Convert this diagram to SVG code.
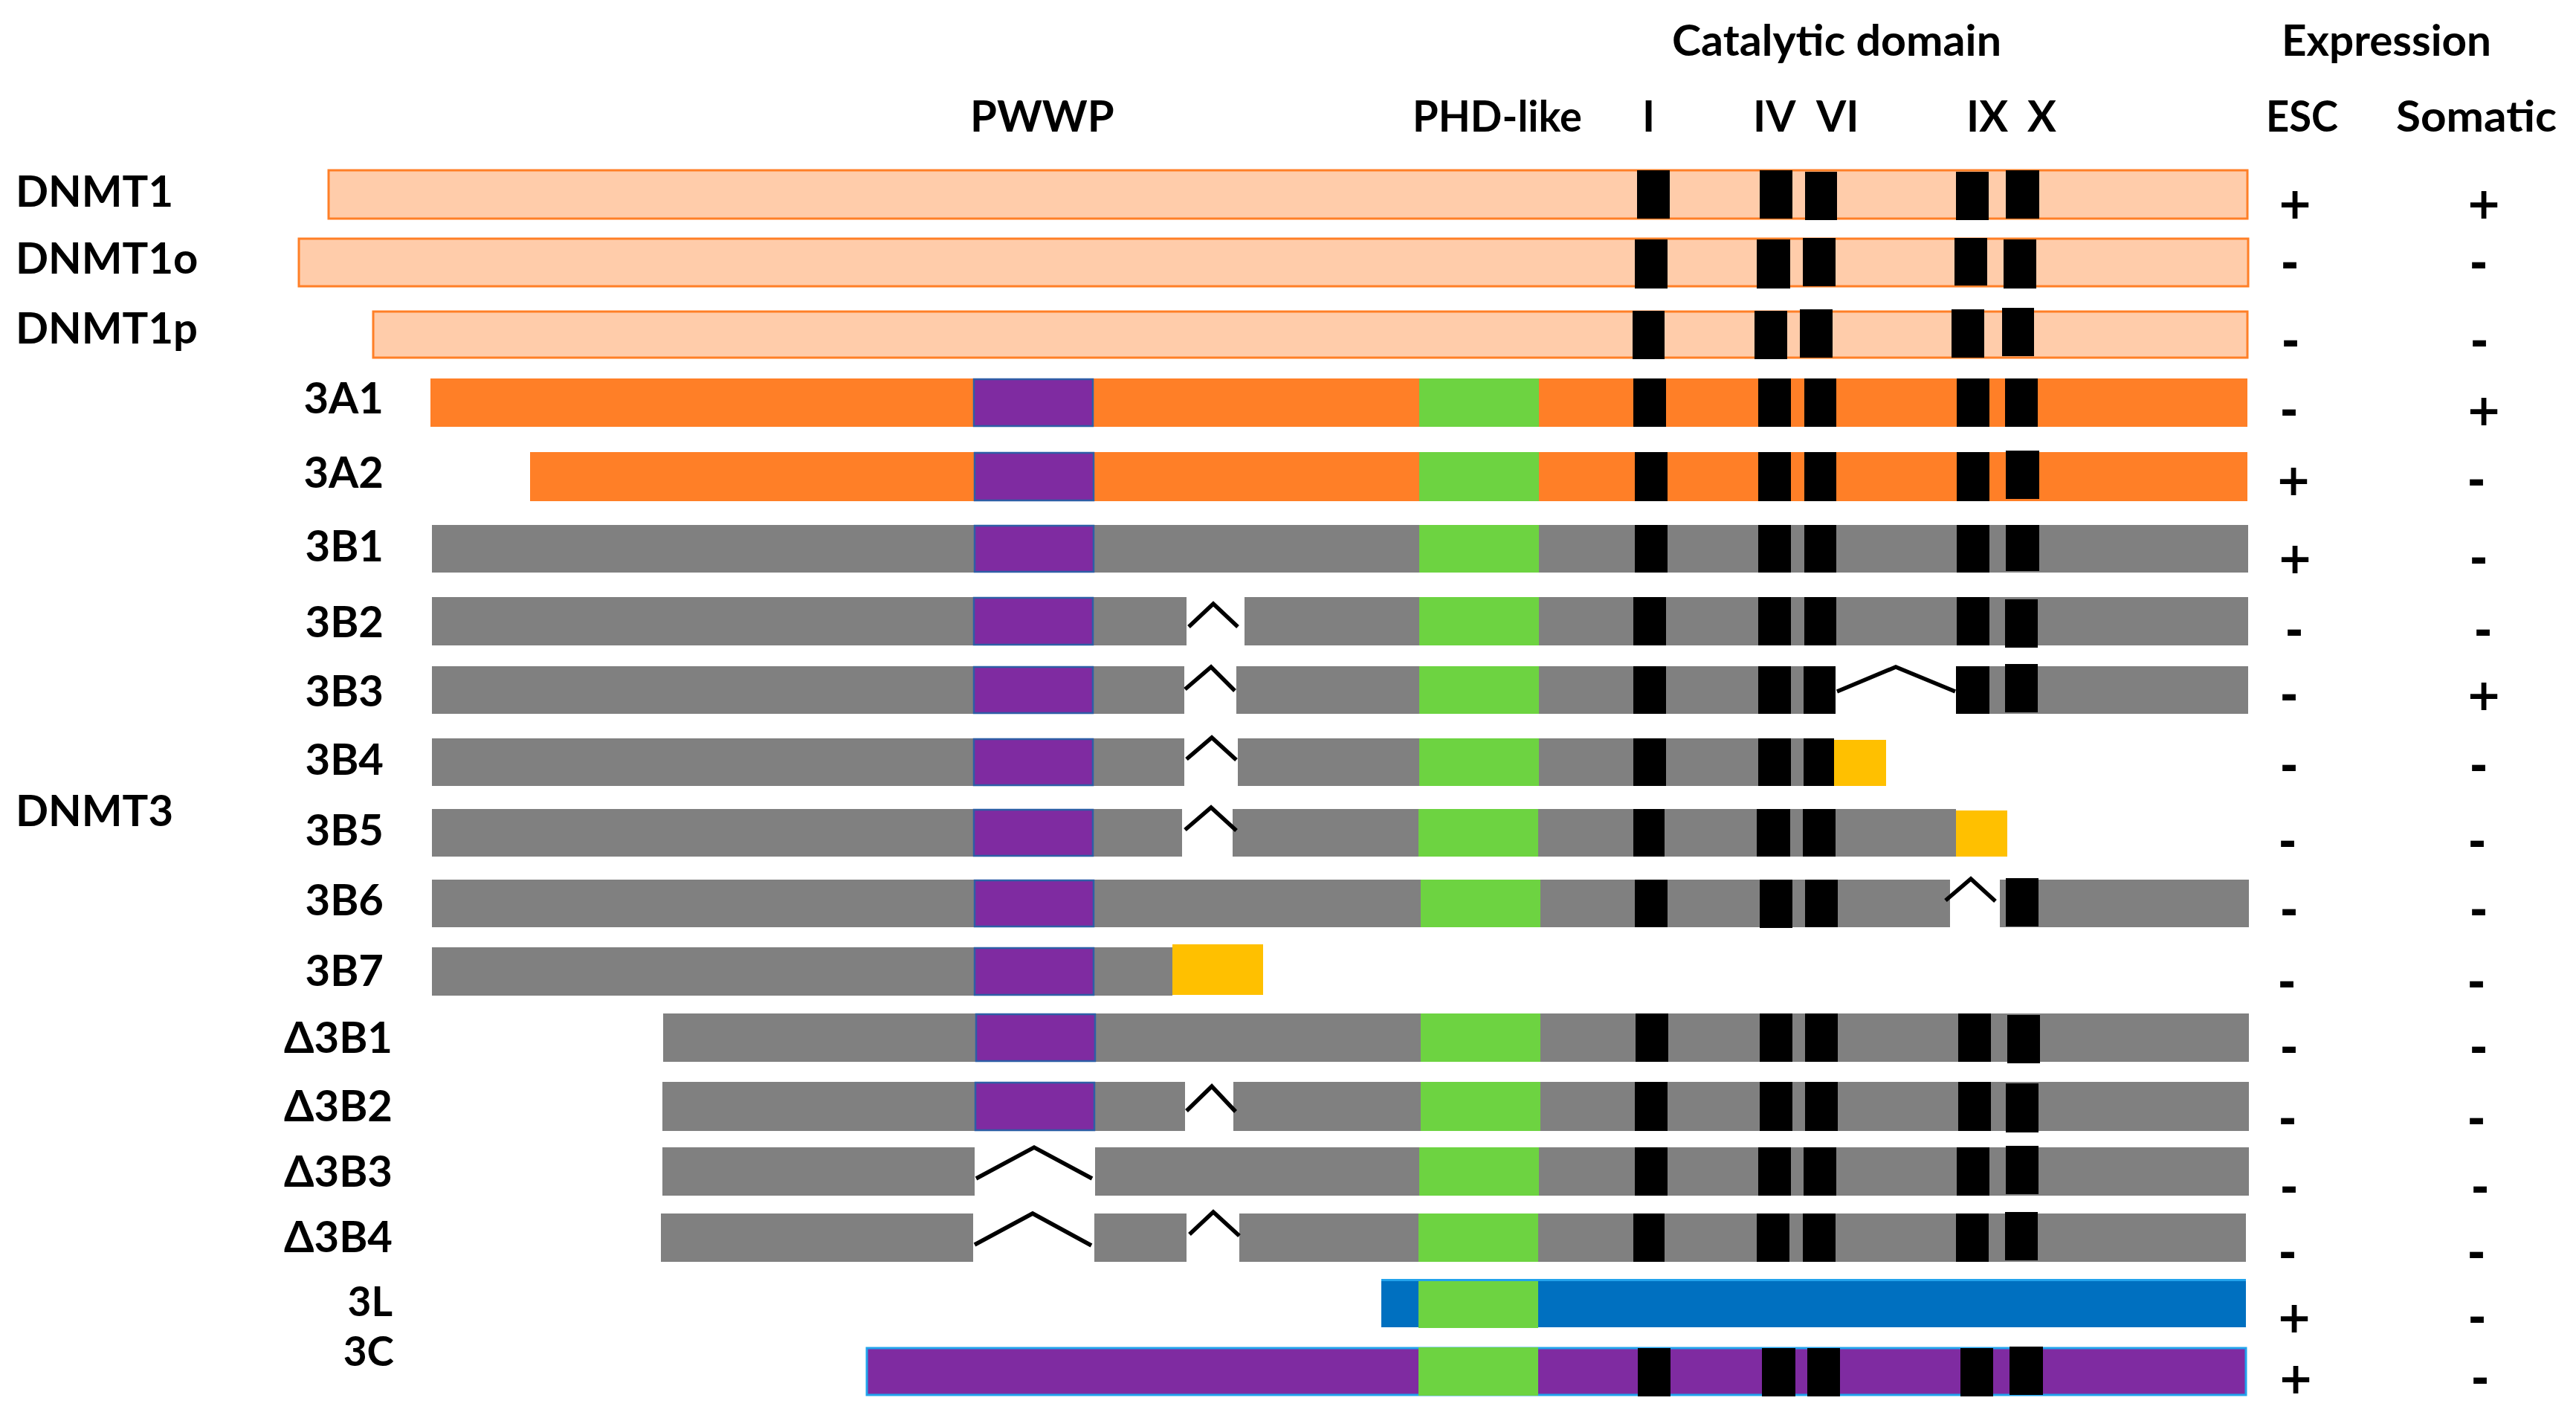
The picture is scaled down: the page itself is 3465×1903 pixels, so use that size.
<svg xmlns="http://www.w3.org/2000/svg" width="3465" height="1903" viewBox="0 0 3465 1903">
<style>
.t{font-family:Lato,"Open Sans","Liberation Sans",sans-serif;font-weight:700;font-size:58px;fill:#000}
.sm{font-size:55px}
.e{text-anchor:end}
.p,.n{font-family:"DejaVu Sans","Liberation Sans",sans-serif;font-weight:700;font-size:58px;fill:#000;text-anchor:middle}
.peach{fill:#FFCCAA;stroke:#FF7F27;stroke-width:3}
.org{fill:#FF7F27}
.gray{fill:#808080}
.pwwp{fill:#7F2BA1;stroke:#2E5EA6;stroke-width:2.5}
.phd{fill:#6DD341}
.m{fill:#000}
.y{fill:#FFC000}
.blue{fill:#0070C0}
.lb{fill:#22A3EC}
.pur{fill:#7F2BA1;stroke:#22A3EC;stroke-width:3}
.sp{fill:none;stroke:#000;stroke-width:5.5;stroke-linejoin:miter}
</style>
<rect x="0" y="0" width="3465" height="1903" fill="#fff"/>

<g id="headings">
<text class="t" x="2249" y="75" textLength="443" lengthAdjust="spacingAndGlyphs">Catalytic domain</text>
<text class="t" x="3069" y="75" textLength="282" lengthAdjust="spacingAndGlyphs">Expression</text>
<text class="t" x="1305" y="177">PWWP</text>
<text class="t" x="1900" y="177" textLength="228" lengthAdjust="spacingAndGlyphs">PHD-like</text>
<text class="t" x="2209" y="177">I</text>
<text class="t" x="2358" y="177">IV</text>
<text class="t" x="2443" y="177">VI</text>
<text class="t" x="2645" y="177">IX</text>
<text class="t" x="2727" y="177">X</text>
<text class="t" x="3048" y="177" textLength="97" lengthAdjust="spacingAndGlyphs">ESC</text>
<text class="t" x="3223" y="177" textLength="216" lengthAdjust="spacingAndGlyphs">Somatic</text>
</g>

<g id="group-labels">
<text class="t" x="21" y="278">DNMT1</text>
<text class="t" x="21" y="368">DNMT1o</text>
<text class="t" x="21" y="462">DNMT1p</text>
<text class="t" x="21" y="1111">DNMT3</text>
</g>

<g id="DNMT1">
<rect class="peach" x="442" y="229" width="2581" height="65"/>
<rect class="m" x="2202" y="229" width="44" height="65"/>
<rect class="m" x="2367" y="229" width="44" height="65"/>
<rect class="m" x="2428" y="231" width="43" height="65"/>
<rect class="m" x="2631" y="231" width="44" height="65"/>
<rect class="m" x="2698" y="229" width="45" height="65"/>
</g>
<g id="DNMT1o">
<rect class="peach" x="402" y="321" width="2622" height="64"/>
<rect class="m" x="2199" y="322" width="44" height="66"/>
<rect class="m" x="2363" y="322" width="45" height="66"/>
<rect class="m" x="2425" y="320" width="44" height="65"/>
<rect class="m" x="2629" y="320" width="44" height="64"/>
<rect class="m" x="2695" y="322" width="44" height="66"/>
</g>
<g id="DNMT1p">
<rect class="peach" x="502" y="419" width="2521" height="62"/>
<rect class="m" x="2196" y="418" width="43" height="65"/>
<rect class="m" x="2360" y="418" width="44" height="65"/>
<rect class="m" x="2421" y="416" width="44" height="65"/>
<rect class="m" x="2625" y="416" width="44" height="65"/>
<rect class="m" x="2693" y="414" width="43" height="65"/>
</g>

<g id="DNMT3A1">
<text class="t e" x="516" y="556">3A1</text>
<rect class="org" x="579" y="509" width="2444" height="65"/>
<rect class="pwwp" x="1310" y="510" width="160" height="63"/>
<rect class="phd" x="1909" y="509" width="161" height="65"/>
<rect class="m" x="2197" y="509" width="44" height="65"/>
<rect class="m" x="2365" y="509" width="44" height="65"/>
<rect class="m" x="2427" y="509" width="43" height="65"/>
<rect class="m" x="2632" y="509" width="44" height="65"/>
<rect class="m" x="2697" y="509" width="44" height="65"/>
</g>
<g id="DNMT3A2">
<text class="t e" x="516" y="656">3A2</text>
<rect class="org" x="713" y="608" width="2310" height="66"/>
<rect class="pwwp" x="1311" y="609" width="160" height="64"/>
<rect class="phd" x="1909" y="608" width="161" height="66"/>
<rect class="m" x="2199" y="608" width="44" height="66"/>
<rect class="m" x="2365" y="608" width="44" height="66"/>
<rect class="m" x="2427" y="608" width="43" height="66"/>
<rect class="m" x="2632" y="608" width="44" height="66"/>
<rect class="m" x="2698" y="606" width="45" height="65"/>
</g>
<g id="DNMT3B1">
<text class="t e" x="516" y="755">3B1</text>
<rect class="gray" x="581" y="706" width="2443" height="64"/>
<rect class="pwwp" x="1311" y="707" width="160" height="62"/>
<rect class="phd" x="1909" y="706" width="161" height="64"/>
<rect class="m" x="2199" y="706" width="44" height="64"/>
<rect class="m" x="2365" y="706" width="44" height="64"/>
<rect class="m" x="2427" y="706" width="43" height="64"/>
<rect class="m" x="2632" y="706" width="44" height="64"/>
<rect class="m" x="2698" y="706" width="45" height="62"/>
</g>
<g id="DNMT3B2">
<text class="t e" x="516" y="857">3B2</text>
<rect class="gray" x="581" y="803" width="1015" height="65"/>
<rect class="gray" x="1674" y="803" width="1350" height="65"/>
<rect class="pwwp" x="1310" y="804" width="160" height="63"/>
<rect class="phd" x="1909" y="803" width="161" height="65"/>
<rect class="m" x="2197" y="803" width="44" height="65"/>
<rect class="m" x="2365" y="803" width="44" height="65"/>
<rect class="m" x="2427" y="803" width="43" height="65"/>
<rect class="m" x="2632" y="803" width="44" height="65"/>
<rect class="m" x="2697" y="806" width="44" height="65"/>
<polyline class="sp" points="1599,843 1632,812 1665,843"/>
</g>
<g id="DNMT3B3">
<text class="t e" x="516" y="950">3B3</text>
<rect class="gray" x="581" y="896" width="1012" height="64"/>
<rect class="gray" x="1663" y="896" width="806" height="64"/>
<rect class="gray" x="2631" y="896" width="393" height="64"/>
<rect class="pwwp" x="1310" y="897" width="160" height="62"/>
<rect class="phd" x="1909" y="896" width="161" height="64"/>
<rect class="m" x="2197" y="896" width="44" height="64"/>
<rect class="m" x="2365" y="896" width="44" height="64"/>
<rect class="m" x="2426" y="896" width="43" height="64"/>
<rect class="m" x="2631" y="896" width="45" height="64"/>
<rect class="m" x="2697" y="893" width="44" height="65"/>
<polyline class="sp" points="1594,927 1629,897 1661,929"/>
<polyline class="sp" points="2471,930 2550,897 2630,930"/>
</g>
<g id="DNMT3B4">
<text class="t e" x="516" y="1042">3B4</text>
<rect class="gray" x="581" y="993" width="1012" height="64"/>
<rect class="gray" x="1665" y="993" width="802" height="64"/>
<rect class="pwwp" x="1310" y="994" width="160" height="62"/>
<rect class="phd" x="1909" y="993" width="161" height="64"/>
<rect class="m" x="2197" y="993" width="44" height="64"/>
<rect class="m" x="2365" y="993" width="44" height="64"/>
<rect class="m" x="2426" y="993" width="41" height="64"/>
<rect class="y" x="2467" y="995" width="70" height="62"/>
<polyline class="sp" points="1596,1021 1630,992 1663,1022"/>
</g>
<g id="DNMT3B5">
<text class="t e" x="516" y="1137">3B5</text>
<rect class="gray" x="581" y="1088" width="1009" height="64"/>
<rect class="gray" x="1658" y="1088" width="973" height="64"/>
<rect class="pwwp" x="1310" y="1089" width="160" height="62"/>
<rect class="phd" x="1908" y="1088" width="161" height="64"/>
<rect class="m" x="2197" y="1088" width="42" height="64"/>
<rect class="m" x="2363" y="1088" width="45" height="64"/>
<rect class="m" x="2425" y="1088" width="44" height="64"/>
<rect class="y" x="2631" y="1090" width="69" height="62"/>
<polyline class="sp" points="1594,1116 1629,1086 1663,1117"/>
</g>
<g id="DNMT3B6">
<text class="t e" x="516" y="1231">3B6</text>
<rect class="gray" x="581" y="1183" width="2042" height="64"/>
<rect class="gray" x="2690" y="1183" width="335" height="64"/>
<rect class="pwwp" x="1311" y="1184" width="160" height="62"/>
<rect class="phd" x="1911" y="1183" width="161" height="64"/>
<rect class="m" x="2199" y="1183" width="44" height="64"/>
<rect class="m" x="2367" y="1183" width="44" height="65"/>
<rect class="m" x="2428" y="1183" width="44" height="64"/>
<rect class="m" x="2698" y="1181" width="44" height="65"/>
<polyline class="sp" points="2617,1211 2651,1182 2684,1212"/>
</g>
<g id="DNMT3B7">
<text class="t e" x="516" y="1326">3B7</text>
<rect class="gray" x="581" y="1274" width="996" height="65"/>
<rect class="pwwp" x="1311" y="1275" width="160" height="63"/>
<rect class="y" x="1577" y="1270" width="122" height="68"/>
</g>
<g id="DNMT3dB1">
<text class="t e" x="528" y="1416">Δ3B1</text>
<rect class="gray" x="892" y="1363" width="2133" height="65"/>
<rect class="pwwp" x="1313" y="1364" width="160" height="63"/>
<rect class="phd" x="1911" y="1363" width="161" height="65"/>
<rect class="m" x="2200" y="1363" width="44" height="65"/>
<rect class="m" x="2367" y="1363" width="44" height="65"/>
<rect class="m" x="2428" y="1363" width="44" height="65"/>
<rect class="m" x="2634" y="1363" width="44" height="65"/>
<rect class="m" x="2700" y="1365" width="44" height="65"/>
</g>
<g id="DNMT3dB2">
<text class="t e" x="528" y="1508">Δ3B2</text>
<rect class="gray" x="891" y="1455" width="703" height="66"/>
<rect class="gray" x="1659" y="1455" width="1366" height="66"/>
<rect class="pwwp" x="1312" y="1456" width="160" height="64"/>
<rect class="phd" x="1911" y="1455" width="161" height="66"/>
<rect class="m" x="2199" y="1455" width="44" height="66"/>
<rect class="m" x="2367" y="1455" width="44" height="66"/>
<rect class="m" x="2428" y="1455" width="44" height="66"/>
<rect class="m" x="2634" y="1455" width="44" height="66"/>
<rect class="m" x="2698" y="1457" width="44" height="66"/>
<polyline class="sp" points="1596,1494 1630,1461 1662,1495"/>
</g>
<g id="DNMT3dB3">
<text class="t e" x="528" y="1596">Δ3B3</text>
<rect class="gray" x="891" y="1543" width="420" height="65"/>
<rect class="gray" x="1473" y="1543" width="1552" height="65"/>
<rect class="phd" x="1909" y="1543" width="161" height="65"/>
<rect class="m" x="2199" y="1543" width="44" height="65"/>
<rect class="m" x="2365" y="1543" width="44" height="65"/>
<rect class="m" x="2426" y="1543" width="44" height="65"/>
<rect class="m" x="2632" y="1543" width="44" height="65"/>
<rect class="m" x="2698" y="1541" width="44" height="65"/>
<polyline class="sp" points="1313,1585 1391,1543 1469,1585"/>
</g>
<g id="DNMT3dB4">
<text class="t e" x="528" y="1684">Δ3B4</text>
<rect class="gray" x="889" y="1632" width="420" height="65"/>
<rect class="gray" x="1472" y="1632" width="124" height="65"/>
<rect class="gray" x="1667" y="1632" width="1354" height="65"/>
<rect class="phd" x="1908" y="1632" width="161" height="65"/>
<rect class="m" x="2197" y="1632" width="42" height="65"/>
<rect class="m" x="2363" y="1632" width="44" height="65"/>
<rect class="m" x="2425" y="1632" width="44" height="65"/>
<rect class="m" x="2631" y="1632" width="44" height="65"/>
<rect class="m" x="2697" y="1630" width="44" height="65"/>
<polyline class="sp" points="1311,1674 1389,1632 1468,1675"/>
<polyline class="sp" points="1600,1660 1632,1630 1667,1662"/>
</g>
<g id="DNMT3L">
<text class="t sm e" x="528" y="1770">3L</text>
<rect class="blue" x="1858" y="1721" width="1163" height="64"/>
<rect class="phd" x="1908" y="1721" width="161" height="65"/>
<rect class="lb" x="1858" y="1720" width="1163" height="3"/>
</g>
<g id="DNMT3C">
<text class="t sm e" x="530" y="1837">3C</text>
<rect class="pur" x="1166" y="1813" width="1855" height="63"/>
<rect class="phd" x="1908" y="1812" width="161" height="65"/>
<rect class="m" x="2203" y="1813" width="44" height="65"/>
<rect class="m" x="2370" y="1813" width="45" height="65"/>
<rect class="m" x="2431" y="1813" width="44" height="65"/>
<rect class="m" x="2637" y="1813" width="44" height="65"/>
<rect class="m" x="2703" y="1811" width="45" height="65"/>
</g>

<g id="expression">
<text class="p" x="3087" y="294">+</text><text class="p" x="3341" y="294">+</text>
<text class="n" x="3080" y="374">-</text><text class="n" x="3334" y="374">-</text>
<text class="n" x="3081" y="479">-</text><text class="n" x="3335" y="479">-</text>
<text class="n" x="3079" y="572">-</text><text class="p" x="3341" y="572">+</text>
<text class="p" x="3085" y="666">+</text><text class="n" x="3331" y="666">-</text>
<text class="p" x="3087" y="771">+</text><text class="n" x="3334" y="771">-</text>
<text class="n" x="3086" y="868">-</text><text class="n" x="3340" y="868">-</text>
<text class="n" x="3079" y="955">-</text><text class="p" x="3341" y="955">+</text>
<text class="n" x="3079" y="1050">-</text><text class="n" x="3334" y="1050">-</text>
<text class="n" x="3077" y="1152">-</text><text class="n" x="3332" y="1152">-</text>
<text class="n" x="3079" y="1244">-</text><text class="n" x="3334" y="1244">-</text>
<text class="n" x="3076" y="1341">-</text><text class="n" x="3331" y="1341">-</text>
<text class="n" x="3079" y="1429">-</text><text class="n" x="3334" y="1429">-</text>
<text class="n" x="3077" y="1525">-</text><text class="n" x="3331" y="1525">-</text>
<text class="n" x="3079" y="1617">-</text><text class="n" x="3336" y="1617">-</text>
<text class="n" x="3077" y="1705">-</text><text class="n" x="3331" y="1705">-</text>
<text class="p" x="3086" y="1792">+</text><text class="n" x="3332" y="1792">-</text>
<text class="p" x="3088" y="1874">+</text><text class="n" x="3336" y="1874">-</text>
</g>
</svg>
